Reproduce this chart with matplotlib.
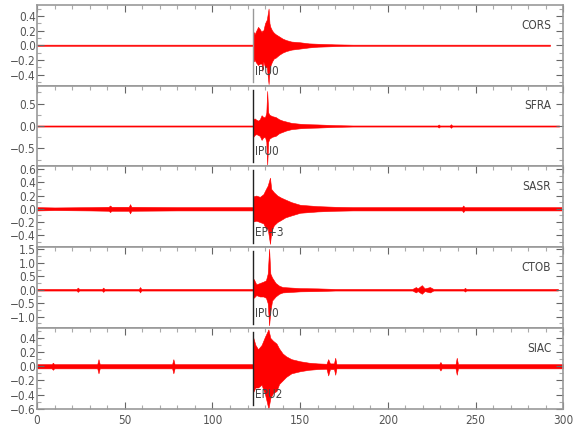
import matplotlib
matplotlib.use("Agg")
import matplotlib.pyplot as plt
from matplotlib.ticker import MultipleLocator

plt.rcParams['font.family'] = ['DejaVu Sans']
plt.rcParams['font.stretch'] = 'condensed'

# station names, pick labels, y limits and y tick steps per panel
stations = ["CORS", "SFRA", "SASR", "CTOB", "SIAC"]
pick_labels = ["IPU0", "IPU0", "EP+3", "IPU0", "EPU2"]
pick_time = 123.2
ylims = [(-0.55, 0.55), (-0.9, 0.9), (-0.58, 0.64), (-1.42, 1.58), (-0.6, 0.54)]
major_steps = [0.2, 0.5, 0.2, 0.5, 0.2]
minor_steps = [0.1, 0.25, 0.1, 0.25, 0.1]

# envelope of each trace (time s, upper, lower)
t_cors = [0, 123, 123.5, 124, 125, 126, 127, 128, 128.4, 129, 130, 131, 132, 132.5, 133,
          134, 135, 136, 138, 140, 142, 145, 150, 155, 160, 170, 180, 292.5]
hi_cors = [.008, .008, .18, .15, .2, .25, .22, .18, .2, .2, .3, .35, .5, .3, .25,
           .2, .17, .15, .12, .09, .07, .05, .04, .025, .02, .012, .008, .008]
lo_cors = [-.008, -.008, -.22, -.2, -.24, -.27, -.25, -.25, -.35, -.22, -.3, -.3, -.53, -.35, -.28,
           -.22, -.18, -.17, -.13, -.1, -.08, -.06, -.045, -.03, -.02, -.012, -.008, -.008]

t_sfra = [0, 123, 123.3, 124, 125, 126, 127, 128, 129, 130, 130.7, 131.2, 131.8, 132.5,
          134, 136, 138, 140, 142, 145, 150, 155, 160, 170, 180, 228.3, 229, 229.7, 235.3, 236, 236.7, 297.7]
hi_sfra = [.012, .012, .15, .17, .14, .12, .15, .24, .2, .2, .3, .78, .3, .25,
           .22, .2, .15, .12, .1, .07, .05, .04, .035, .02, .012, .012, .035, .012, .012, .04, .012, .012]
lo_sfra = [-.012, -.012, -.24, -.2, -.18, -.2, -.22, -.31, -.25, -.25, -.35, -.87, -.35, -.28,
           -.24, -.22, -.16, -.13, -.1, -.07, -.05, -.04, -.035, -.02, -.012, -.012, -.035, -.012, -.012, -.04, -.012, -.012]

t_sasr = [0, 10, 30, 40.8, 41.6, 42.4, 52.3, 53, 53.7, 80, 100, 123, 123.5, 125, 127, 129, 130.5, 131.5, 132.8,
          133.5, 135, 137, 139, 141.5, 145, 150, 155, 160, 170, 180, 242.3, 243, 243.7, 299]
hi_sasr = [.025, .02, .025, .03, .05, .03, .03, .07, .03, .025, .025, .025, .19, .2, .18, .22, .3, .35, .47,
           .3, .25, .2, .17, .14, .1, .06, .05, .04, .03, .025, .025, .05, .025, .025]
lo_sasr = [-.025, -.02, -.025, -.03, -.05, -.03, -.03, -.07, -.03, -.025, -.025, -.025, -.19, -.18, -.2, -.22, -.3, -.3, -.53,
           -.35, -.25, -.2, -.17, -.13, -.1, -.06, -.05, -.04, -.03, -.025, -.025, -.05, -.025, -.025]

t_ctob = [0, 22.5, 23.2, 24, 37, 37.7, 38.4, 58, 58.7, 59.4, 123, 123.5, 125, 127, 129, 130.5, 131.5, 132.3,
          133, 134, 136, 138, 140, 145, 150, 160, 170, 214, 216, 217, 219.4, 221, 224, 226, 243.3, 244, 244.7, 297]
hi_ctob = [.03, .03, .08, .03, .03, .08, .03, .03, .1, .03, .03, .4, .2, .25, .3, .35, .6, 1.52,
           .6, .45, .25, .15, .1, .08, .06, .05, .03, .03, .1, .05, .17, .05, .1, .03, .03, .07, .03, .03]
lo_ctob = [-.03, -.03, -.08, -.03, -.03, -.08, -.03, -.03, -.1, -.03, -.03, -.3, -.2, -.25, -.25, -.3, -.5, -1.32,
           -.8, -.4, -.25, -.15, -.1, -.08, -.06, -.05, -.03, -.03, -.1, -.05, -.15, -.05, -.1, -.03, -.03, -.07, -.03, -.03]

t_siac = [0, 8.3, 9, 9.7, 34.3, 35, 35.7, 77, 77.7, 78.4, 123, 123.3, 124.5, 126, 128, 130, 131.9, 133, 134.5, 136.5,
          138, 140, 142, 145, 150, 155, 160, 165, 166, 167, 169.3, 170, 170.7, 229.3, 230, 230.7, 238.6, 239.3, 240, 300]
hi_siac = [.03, .03, .05, .03, .03, .1, .03, .03, .1, .03, .03, .4, .3, .24, .3, .42, .52, .4, .36, .32,
           .25, .18, .14, .1, .07, .05, .04, .035, .1, .04, .04, .12, .03, .03, .06, .03, .03, .12, .03, .03]
lo_siac = [-.03, -.03, -.05, -.03, -.03, -.1, -.03, -.03, -.1, -.03, -.03, -.36, -.3, -.3, -.26, -.4, -.6, -.45, -.38, -.35,
           -.25, -.2, -.15, -.1, -.07, -.05, -.04, -.035, -.13, -.04, -.04, -.12, -.03, -.03, -.06, -.03, -.03, -.12, -.03, -.03]

traces = [(t_cors, hi_cors, lo_cors), (t_sfra, hi_sfra, lo_sfra), (t_sasr, hi_sasr, lo_sasr),
          (t_ctob, hi_ctob, lo_ctob), (t_siac, hi_siac, lo_siac)]

fig, axes = plt.subplots(5, 1, figsize=(5.8, 4.4), dpi=100, sharex=True)
fig.subplots_adjust(left=0.064, right=0.971, top=0.989, bottom=0.071, hspace=0)

tcol = '#555555'
for i, ax in enumerate(axes):
    t, hi, lo = traces[i]
    ax.fill_between(t, lo, hi, color='red', lw=0.4, edgecolor='red')
    ax.axvline(pick_time, ymin=0.05, ymax=0.95, color='#999999' if i == 0 else '#222222', lw=1)
    ax.text(pick_time + 1.2, ylims[i][0] + 0.18 * (ylims[i][1] - ylims[i][0]), pick_labels[i],
            fontsize=8.5, color='#444444', va='center', ha='left')
    ax.text(0.977, 0.75, stations[i], transform=ax.transAxes, fontsize=8.5,
            color='#444444', va='center', ha='right')
    ax.set_xlim(0, 300)
    ax.set_ylim(*ylims[i])
    ax.yaxis.set_major_locator(MultipleLocator(major_steps[i]))
    ax.yaxis.set_minor_locator(MultipleLocator(minor_steps[i]))
    ax.xaxis.set_major_locator(MultipleLocator(50))
    ax.xaxis.set_minor_locator(MultipleLocator(10))
    ax.tick_params(which='both', direction='in', top=True, bottom=(i == 4), left=True, right=True,
                   colors='#666666', labelcolor=tcol, labelsize=8.5, width=0.8)
    ax.tick_params(which='major', length=5)
    ax.tick_params(which='minor', length=3, colors='#aaaaaa')
    ax.tick_params(axis='y', pad=1)
    for sp in ax.spines.values():
        sp.set_color('#999999')
        sp.set_linewidth(1.2)

axes[-1].tick_params(axis='x', labelbottom=True)

fig.savefig("out.png", dpi=100)
